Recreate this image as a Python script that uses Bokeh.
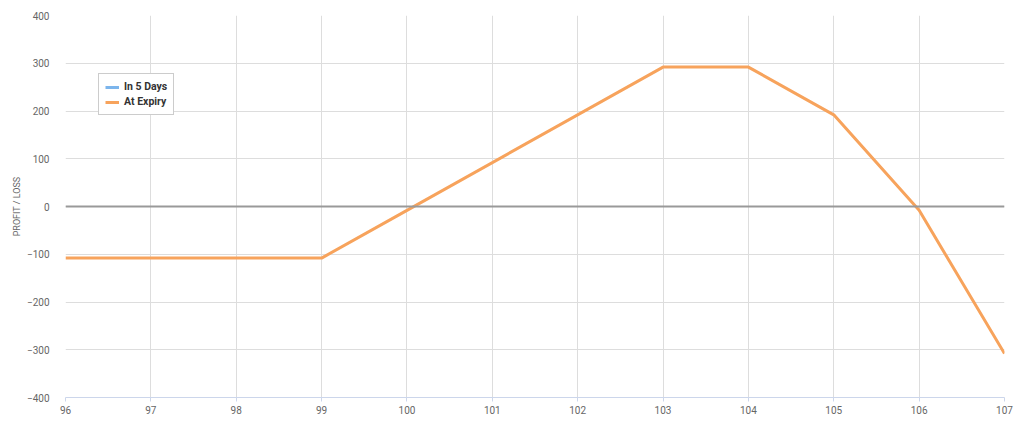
from bokeh.plotting import figure
from bokeh.models import FixedTicker, Legend, LegendItem, Span
from bokeh.embed import file_html
from bokeh.resources import INLINE

# Data
prices = [96, 99, 100, 103, 104, 105, 106, 107]
at_expiry = [-108, -108, -8, 292, 292, 192, -8, -308]
in_5_days_x = [float("nan")]
in_5_days_y = [float("nan")]
x_ticks = [96, 97, 98, 99, 100, 101, 102, 103, 104, 105, 106, 107]
y_ticks = [-400, -300, -200, -100, 0, 100, 200, 300, 400]

FONT = "Roboto"

p = figure(width=1016, height=418, x_range=(96, 107), y_range=(-400, 400),
           output_backend="svg", toolbar_location=None,
           min_border_left=65, min_border_right=12, min_border_top=15, min_border_bottom=21)
p.outline_line_color = None
p.background_fill_color = "white"
p.border_fill_color = "white"

p.xaxis.ticker = FixedTicker(ticks=x_ticks)
p.yaxis.ticker = FixedTicker(ticks=y_ticks)
p.xgrid.ticker = FixedTicker(ticks=x_ticks)
p.ygrid.ticker = FixedTicker(ticks=y_ticks)
p.grid.grid_line_color = "#dddddd"
p.grid.grid_line_width = 1

p.xaxis.axis_line_color = "#ccd6eb"
p.xaxis.major_tick_line_color = "#ccd6eb"
p.xaxis.major_tick_out = 4
p.xaxis.major_tick_in = 0
p.xaxis.minor_tick_line_color = None
p.xaxis.major_label_standoff = 4
p.yaxis.axis_line_color = None
p.yaxis.major_tick_line_color = None
p.yaxis.minor_tick_line_color = None
p.yaxis.major_label_standoff = 10
for ax in (p.xaxis, p.yaxis):
    ax.major_label_text_font = FONT
    ax.major_label_text_font_size = "10px"
    ax.major_label_text_color = "#666666"

p.yaxis.axis_label = "PROFIT / LOSS"
p.yaxis.axis_label_text_font = FONT
p.yaxis.axis_label_text_font_size = "9px"
p.yaxis.axis_label_text_font_style = "normal"
p.yaxis.axis_label_text_color = "#666666"
p.yaxis.axis_label_standoff = 2

p.add_layout(Span(location=0, dimension="width", line_color="#999999", line_width=2))

r5 = p.line(x=in_5_days_x, y=in_5_days_y, line_color="#7cb5ec", line_width=3)
re = p.line(x=prices, y=at_expiry, line_color="#f7a35c", line_width=3)

legend = Legend(items=[LegendItem(label="In 5 Days", renderers=[r5]),
                       LegendItem(label="At Expiry", renderers=[re])],
                location=(33, 282), orientation="vertical",
                border_line_color="#999999", border_line_width=1,
                background_fill_alpha=1, label_text_font=FONT,
                label_text_font_size="10.5px", label_text_color="#333333",
                label_text_font_style="bold",
                glyph_width=14, glyph_height=10, label_height=12,
                spacing=2, padding=6, margin=0, label_standoff=5)
p.add_layout(legend, "center")

open("out.html", "w").write(file_html(p, INLINE))
